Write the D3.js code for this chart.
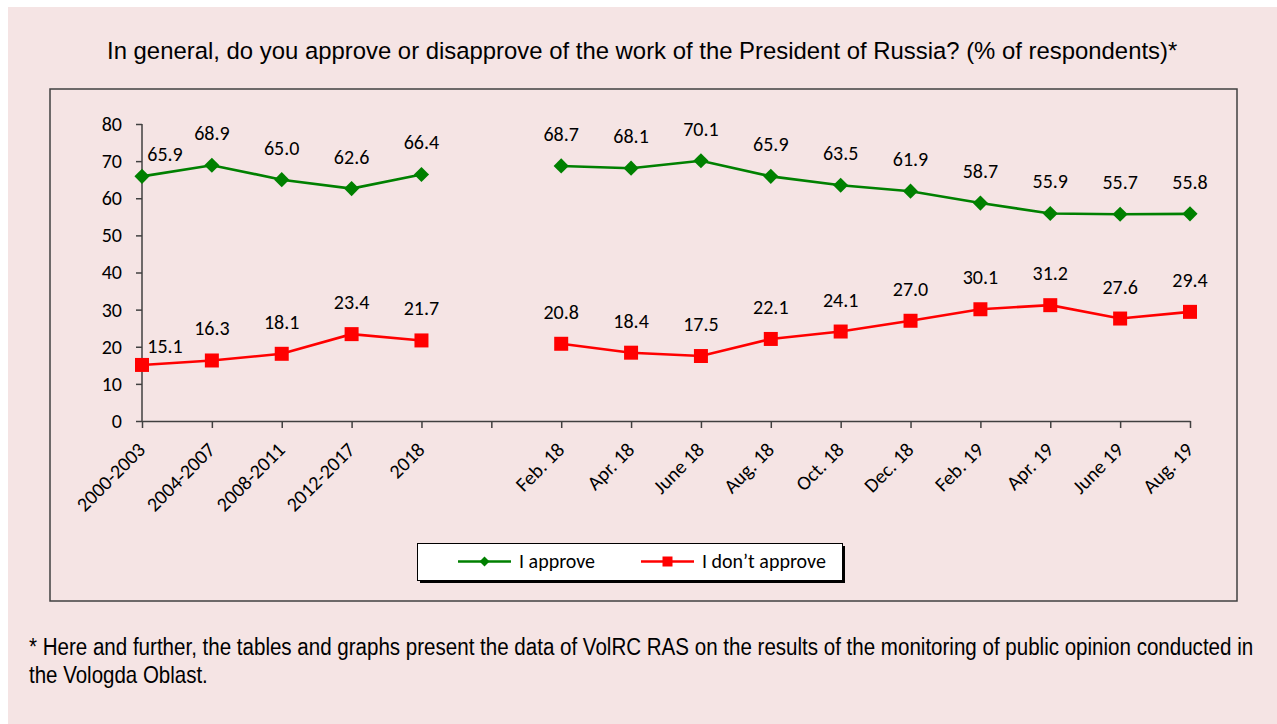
<!DOCTYPE html>
<html>
<head>
<meta charset="utf-8">
<script src="https://cdn.jsdelivr.net/npm/d3@7"></script>
<style>
html,body{margin:0;padding:0;background:#ffffff;}
svg{display:block;}
</style>
</head>
<body>
<svg id="chart" width="1277" height="724"></svg>
<script>
const categories = ["2000-2003","2004-2007","2008-2011","2012-2017","2018"," ","Feb. 18","Apr. 18","June 18","Aug. 18","Oct. 18","Dec. 18","Feb. 19","Apr. 19","June 19","Aug. 19"];
const approve =    [65.9, 68.9, 65.0, 62.6, 66.4, null, 68.7, 68.1, 70.1, 65.9, 63.5, 61.9, 58.7, 55.9, 55.7, 55.8];
const disapprove = [15.1, 16.3, 18.1, 23.4, 21.7, null, 20.8, 18.4, 17.5, 22.1, 24.1, 27.0, 30.1, 31.2, 27.6, 29.4];
const yTicks = [0,10,20,30,40,50,60,70,80];
const seriesNames = ["I approve","I don\u2019t approve"];
const titleText = "In general, do you approve or disapprove of the work of the President of Russia? (% of respondents)*";
const noteLines = ["* Here and further, the tables and graphs present the data of VolRC RAS on the results of the monitoring of public opinion conducted in","the Vologda Oblast."];

const svg = d3.select("#chart");
const narrow = "'Liberation Sans Narrow','Arial Narrow','Liberation Sans',Arial,sans-serif";
const labelFont = "Carlito, Calibri, Lato, sans-serif";
const green = "#008000", red = "#ff0000";

// horizontally condensed text: render at natural width then scale to target width
function condensedText(str, x0, y0, size, targetWidth, anchor){
  const g = svg.append("g");
  const t = g.append("text").attr("x",0).attr("y",0)
    .attr("font-family",narrow).attr("font-size",size).attr("fill","#000").text(str);
  const w = t.node().getComputedTextLength();
  const sx = targetWidth / w;
  const left = anchor === "middle" ? x0 - targetWidth/2 : x0;
  g.attr("transform",`translate(${left},${y0}) scale(${sx},1)`);
  return g;
}

// background
svg.append("rect").attr("x",8).attr("y",7).attr("width",1269).attr("height",717).attr("fill","#f5e4e4");

// title
condensedText(titleText, 642.5, 59, 24.5, 1071, "middle");

// chart box
svg.append("rect").attr("x",50).attr("y",89).attr("width",1187).attr("height",512)
  .attr("fill","none").attr("stroke","#404040").attr("stroke-width",1.5);

const x = d3.scalePoint().domain(categories).range([142,1190]);
const y = d3.scaleLinear().domain([0,80]).range([421,124]);

// y axis
const gy = svg.append("g").attr("transform","translate(142,0)")
  .call(d3.axisLeft(y).tickValues(yTicks).tickSize(6).tickPadding(14).tickFormat(d3.format("d")));
gy.select(".domain").attr("stroke","#404040").attr("stroke-width",1.5).attr("d","M-0,124V421");
gy.selectAll(".tick line").attr("stroke","#404040").attr("stroke-width",1.5);
gy.selectAll(".tick text").attr("font-family",labelFont).attr("font-size",20).attr("fill","#000");

// x axis
const gx = svg.append("g").attr("transform","translate(0,421)")
  .call(d3.axisBottom(x).tickSize(7).tickSizeOuter(0));
gx.select(".domain").attr("stroke","#404040").attr("stroke-width",1.5);
gx.selectAll(".tick line").attr("stroke","#404040").attr("stroke-width",1.5);
gx.selectAll(".tick text")
  .attr("font-family",labelFont).attr("font-size",20).attr("fill","#000")
  .attr("text-anchor","end").attr("dy",0).attr("y",0)
  .attr("transform","translate(4,30) rotate(-45)");

// lines
const line = d3.line().defined(d => d.v != null).x(d => x(d.c)).y(d => y(d.v));
function series(vals){ return vals.map((v,i)=>({c:categories[i],v:v,i:i})); }
const sA = series(approve), sD = series(disapprove);

svg.append("path").datum(sA).attr("d",line).attr("fill","none").attr("stroke",green).attr("stroke-width",2.6);
svg.append("path").datum(sD).attr("d",line).attr("fill","none").attr("stroke",red).attr("stroke-width",2.6);

const diamond = d3.symbol().type(d3.symbolSquare).size(115);
const square = d3.symbol().type(d3.symbolSquare).size(196);

svg.append("g").selectAll("path").data(sA.filter(d=>d.v!=null)).join("path")
  .attr("d",diamond).attr("fill",green)
  .attr("transform",d=>`translate(${x(d.c)},${y(d.v)}) rotate(45)`);
svg.append("g").selectAll("path").data(sD.filter(d=>d.v!=null)).join("path")
  .attr("d",square).attr("fill",red)
  .attr("transform",d=>`translate(${x(d.c)},${y(d.v)})`);

// data labels
function labels(data, firstDy){
  svg.append("g").selectAll("text").data(data.filter(d=>d.v!=null)).join("text")
    .attr("x",d=>x(d.c) + (d.i===0 ? 23 : 0))
    .attr("y",d=>y(d.v) + (d.i===0 ? firstDy : -25))
    .attr("text-anchor","middle").attr("font-family",labelFont).attr("font-size",20).attr("fill","#000")
    .text(d=>d3.format(".1f")(d.v));
}
labels(sA,-15);
labels(sD,-12);

// legend
const lg = svg.append("g");
lg.append("rect").attr("x",420).attr("y",546).attr("width",425).attr("height",37).attr("fill","#000");
lg.append("rect").attr("x",417.5).attr("y",543.5).attr("width",425).attr("height",37).attr("fill","#fff").attr("stroke","#000").attr("stroke-width",1);
const legendItems = [
  {name:seriesNames[0], color:green, x0:458, sym:"d"},
  {name:seriesNames[1], color:red, x0:641, sym:"s"}
];
legendItems.forEach(it=>{
  lg.append("line").attr("x1",it.x0).attr("x2",it.x0+53).attr("y1",561.5).attr("y2",561.5).attr("stroke",it.color).attr("stroke-width",2.6);
  lg.append("path").attr("d", it.sym==="d" ? d3.symbol().type(d3.symbolSquare).size(50)() : d3.symbol().type(d3.symbolSquare).size(100)())
    .attr("fill",it.color)
    .attr("transform",`translate(${it.x0+26.5},561.5)` + (it.sym==="d" ? " rotate(45)" : ""));
  lg.append("text").attr("x",it.x0+61).attr("y",568).attr("font-family",labelFont).attr("font-size",20).attr("fill","#000").text(it.name);
});

// footnote
condensedText(noteLines[0], 29, 655, 23, 1225, "start");
condensedText(noteLines[1], 29, 683, 23, 179, "start");
</script>
</body>
</html>
